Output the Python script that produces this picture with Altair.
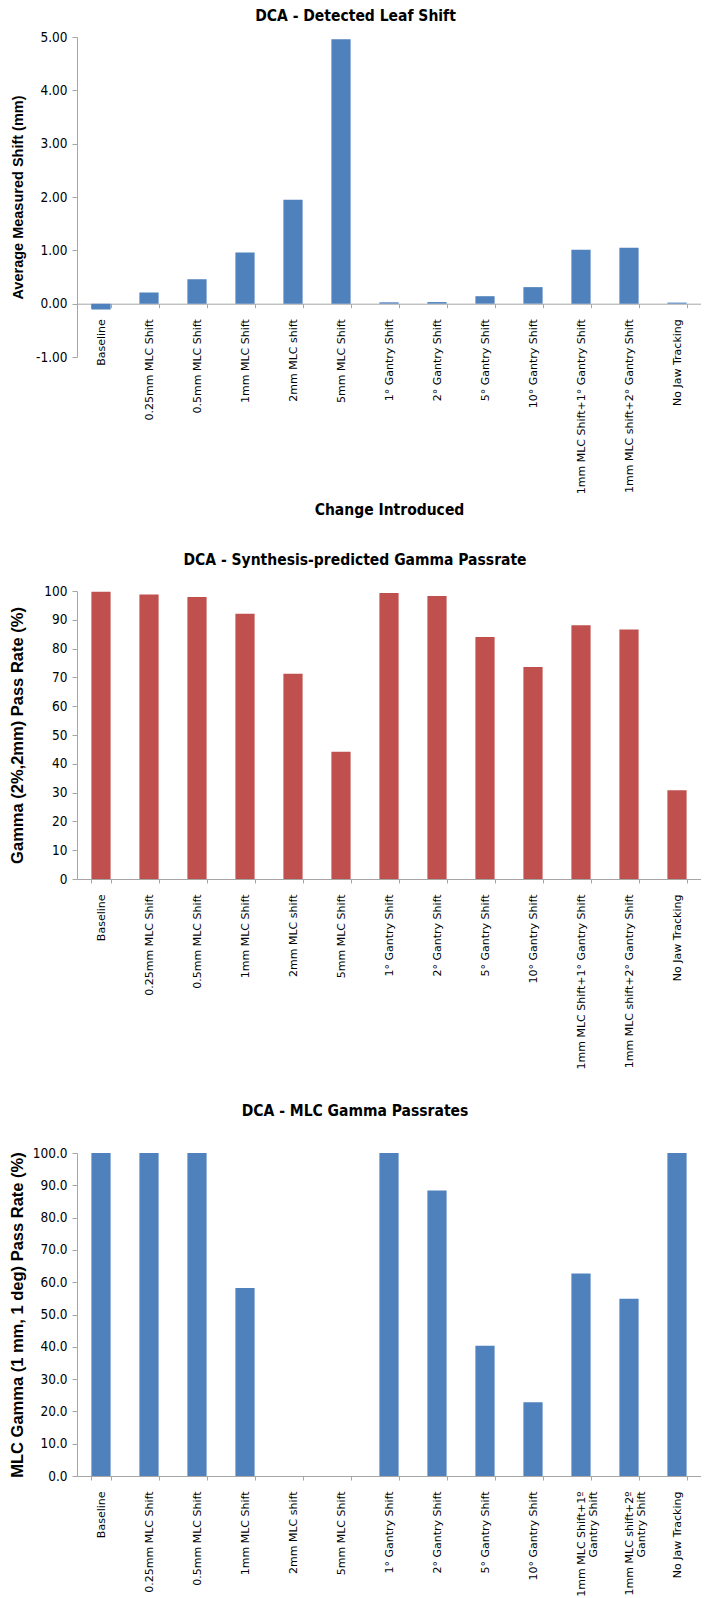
import altair as alt
import pandas as pd

categories = ["Baseline", "0.25mm MLC Shift", "0.5mm MLC Shift", "1mm MLC Shift",
              "2mm MLC shift", "5mm MLC Shift", "1° Gantry Shift", "2° Gantry Shift",
              "5° Gantry Shift", "10° Gantry Shift", "1mm MLC Shift+1° Gantry Shift",
              "1mm MLC shift+2° Gantry Shift", "No Jaw Tracking"]
categories3 = ["Baseline", "0.25mm MLC Shift", "0.5mm MLC Shift", "1mm MLC Shift",
               "2mm MLC shift", "5mm MLC Shift", "1° Gantry Shift", "2° Gantry Shift",
               "5° Gantry Shift", "10° Gantry Shift", "1mm MLC Shift+1º\nGantry Shift",
               "1mm MLC shift+2º\nGantry Shift", "No Jaw Tracking"]

leaf_shift = [-0.11, 0.21, 0.46, 0.96, 1.95, 4.96, 0.025, 0.03, 0.14, 0.31, 1.01, 1.05, 0.02]
synthesis_gamma = [99.7, 98.8, 97.9, 92.1, 71.3, 44.2, 99.3, 98.3, 84.0, 73.6, 88.1, 86.6, 30.8]
mlc_gamma = [100.0, 100.0, 100.0, 58.2, 0.0, 0.0, 100.0, 88.4, 40.3, 22.8, 62.7, 54.9, 100.0]

ticks1 = [-1, 0, 1, 2, 3, 4, 5]
ticks2 = [0, 10, 20, 30, 40, 50, 60, 70, 80, 90, 100]
ticks3 = [0, 10, 20, 30, 40, 50, 60, 70, 80, 90, 100]

BLUE = "#4F81BD"
RED = "#C0504D"
GRAY = "#A6A6A6"
TITLE_FONT = "Liberation Sans Narrow, DejaVu Sans Condensed"
TICK_FONT = "DejaVu Sans Condensed"
XLAB_FONT = "DejaVu Sans"
YTITLE_FONT = "Liberation Sans"


def bar_chart(cats, vals, color, title, ytitle, domain, ticks, fmt, width, height,
              ytitle_size=16.5, xtitle=None, x_offset=0, title_offset=10):
    df = pd.DataFrame({"change": cats, "value": vals})
    xaxis = dict(labelAngle=270, labelFont=XLAB_FONT, labelFontSize=11,
                 labelColor="black", labelPadding=11, labelLimit=400,
                 tickBand="extent", tickSize=4, tickColor=GRAY, domainColor=GRAY,
                 offset=x_offset, labelLineHeight=12,
                 labelExpr="split(datum.label, '\\n')")
    if xtitle:
        xaxis.update(titleFont=TITLE_FONT, titleFontSize=15.5, titleFontWeight="bold",
                     titleColor="black", titlePadding=9)
    x = alt.X("change:N", sort=cats,
              scale=alt.Scale(paddingInner=0.6, paddingOuter=0.3),
              axis=alt.Axis(**xaxis), title=xtitle if xtitle else None)
    label_expr = ("datum.value < 0 ? '-' + format(-datum.value, '%s') : format(datum.value, '%s')"
                  % (fmt, fmt))
    y = alt.Y("value:Q", title=ytitle,
              scale=alt.Scale(domain=domain, nice=False, zero=True),
              axis=alt.Axis(values=ticks, labelExpr=label_expr, grid=False,
                            labelFont=TICK_FONT, labelFontSize=13.5, labelColor="black",
                            labelPadding=5, tickSize=5, tickColor=GRAY, domainColor=GRAY,
                            minExtent=48,
                            titleFont=YTITLE_FONT, titleFontSize=ytitle_size,
                            titleFontWeight="bold", titleColor="black", titlePadding=4))
    return alt.Chart(df).mark_bar(color=color).encode(x=x, y=y).properties(
        width=width, height=height,
        title=alt.TitleParams(title, font=TITLE_FONT, fontSize=15.5, fontWeight="bold",
                              color="black", anchor="middle", frame="bounds",
                              offset=title_offset))


c1 = bar_chart(categories, leaf_shift, BLUE, "DCA - Detected Leaf Shift",
               "Average Measured Shift (mm)", [-1, 5], ticks1, ".2f", 624, 320,
               ytitle_size=14.5, xtitle="Change Introduced", x_offset=-53.3,
               title_offset=6)
c2 = bar_chart(categories, synthesis_gamma, RED, "DCA - Synthesis-predicted Gamma Passrate",
               "Gamma (2%,2mm) Pass Rate (%)", [0, 100], ticks2, "d", 624, 288,
               title_offset=15.5)
c3 = bar_chart(categories3, mlc_gamma, BLUE, "DCA - MLC Gamma Passrates",
               "MLC Gamma (1 mm, 1 deg) Pass Rate (%)", [0, 100], ticks3, ".1f", 624, 323,
               title_offset=26.5)

chart = alt.vconcat(c1, c2, c3, spacing=34).properties(
    padding=0
).configure_view(strokeWidth=0)

chart.save("out.html", embed_options={"renderer": "svg", "actions": False})
